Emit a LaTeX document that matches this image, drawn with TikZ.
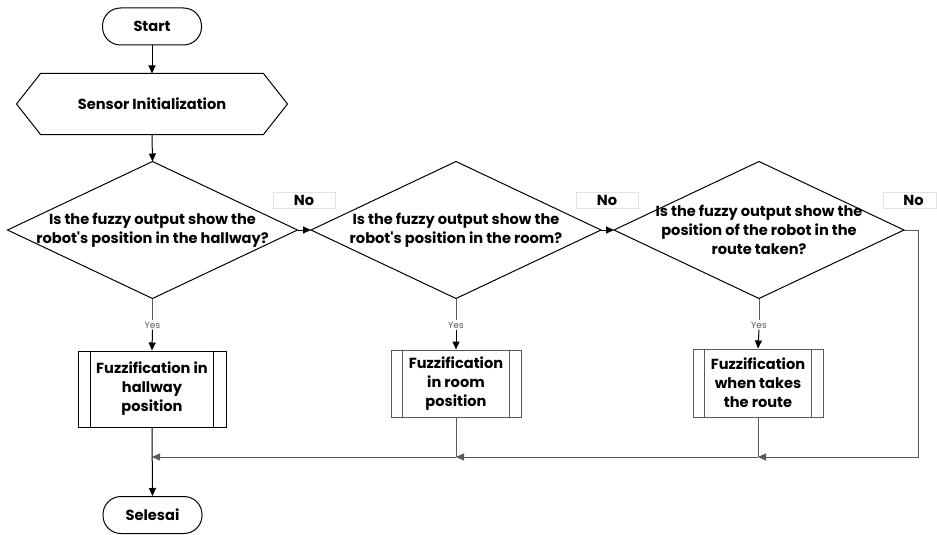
\documentclass[tikz,border=0pt]{standalone}
\usepackage{fontspec}
\setmainfont{Poppins}
\usetikzlibrary{arrows.meta,calc}
\definecolor{lgray}{HTML}{595959}
\definecolor{boxgray}{HTML}{E3E3E3}
\tikzset{
  base/.style={font=\bfseries\fontsize{14.6}{19}\selectfont, align=center, inner sep=0pt},
  terminal/.style={base, draw, rounded corners=18pt, minimum width=99pt, minimum height=37pt},
  prep/.style={base, minimum width=222pt, minimum height=60pt},
  decision/.style={base, minimum width=289pt, minimum height=136pt},
  process/.style={base, draw, line width=1pt},
  nolabel/.style={base, draw=boxgray, minimum width=62pt, minimum height=16pt},
  yeslabel/.style={font=\fontsize{9}{10}\selectfont, text=lgray, inner sep=1pt},
  arr/.style={-{Triangle[length=8pt,width=7pt]}},
  every path/.style={line width=1pt}
}
\newcommand{\diam}[1]{\draw (#1.north) -- (#1.east) -- (#1.south) -- (#1.west) -- cycle;}
\newcommand{\predef}[2]{\draw ($(#1.north west)+(#2,0)$) -- ($(#1.south west)+(#2,0)$);
  \draw ($(#1.north east)+(-#2,0)$) -- ($(#1.south east)+(-#2,0)$);}
\begin{document}
\begin{tikzpicture}[x=1pt,y=-1pt]
\useasboundingbox (0,0) rectangle (937,535);
\node[terminal] (start) at (152,26.5) {Start};
\node[prep] (init) at (152,104) {Sensor Initialization};
\draw (init.north west) -- (init.north east) -- ($(init.east)+(24,0)$) -- (init.south east)
  -- (init.south west) -- ($(init.west)+(-24,0)$) -- cycle;
\node[decision] (d1) at (152.5,230) {Is the fuzzy output show the\\robot\textquotesingle s position in the hallway?};
\node[decision] (d2) at (456,230) {Is the fuzzy output show the\\robot\textquotesingle s position in the room?};
\node[decision] (d3) at (759,230) {Is the fuzzy output show the\\position of the robot in the\\route taken?};
\diam{d1}\diam{d2}\diam{d3}
\node[nolabel] (no1) at (304,200) {No};
\node[nolabel] (no2) at (607,200) {No};
\node[nolabel, minimum width=53pt] (no3) at (910,200) {\hspace*{7pt}No};
\node[yeslabel] (y1) at (152.5,325) {Yes};
\node[yeslabel] (y2) at (456,325) {Yes};
\node[yeslabel] (y3) at (759,325) {Yes};
\node[process, minimum width=148pt, minimum height=76pt] (f1) at (152,389) {Fuzzification in\\hallway\\position};
\node[process, draw=lgray, minimum width=130pt, minimum height=67pt] (f2) at (456,383.5) {Fuzzification\\in room\\position};
\node[process, draw=lgray, minimum width=130pt, minimum height=68pt] (f3) at (758,383) {Fuzzification\\when takes\\the route};
\predef{f1}{13}
\begin{scope}[lgray]\predef{f2}{12}\predef{f3}{12}\end{scope}
\node[terminal] (end) at (152.5,515) {Selesai};
\coordinate (m1) at (152,457);
\coordinate (m2) at (456,457);
\coordinate (m3) at (758,457);
\coordinate (c2) at (918,457);
\draw[arr] (start) -- (init);
\draw[arr] (init.south) -- (d1.north);
\draw[arr] (d1.east) -- (d2.west);
\draw[arr] (d2.east) -- (d3.west);
\draw[lgray] (d1.south) -- (y1.north);
\draw[lgray] (d2.south) -- (y2.north);
\draw[lgray] (d3.south) -- (y3.north);
\draw[arr] (y1.south) -- (f1.north);
\draw[arr] (y2.south) -- (f2.north);
\draw[arr] (y3.south) -- (f3.north);
\draw[lgray, arr] (d3.east) -| (c2) -- (m3);
\draw[lgray] (f3.south) -- (m3);
\draw[lgray, arr] (m3) -- (m2);
\draw[lgray] (f2.south) -- (m2);
\draw[lgray, arr] (m2) -- (m1);
\draw[arr] (f1.south) -- (end.north);
\end{tikzpicture}
\end{document}
